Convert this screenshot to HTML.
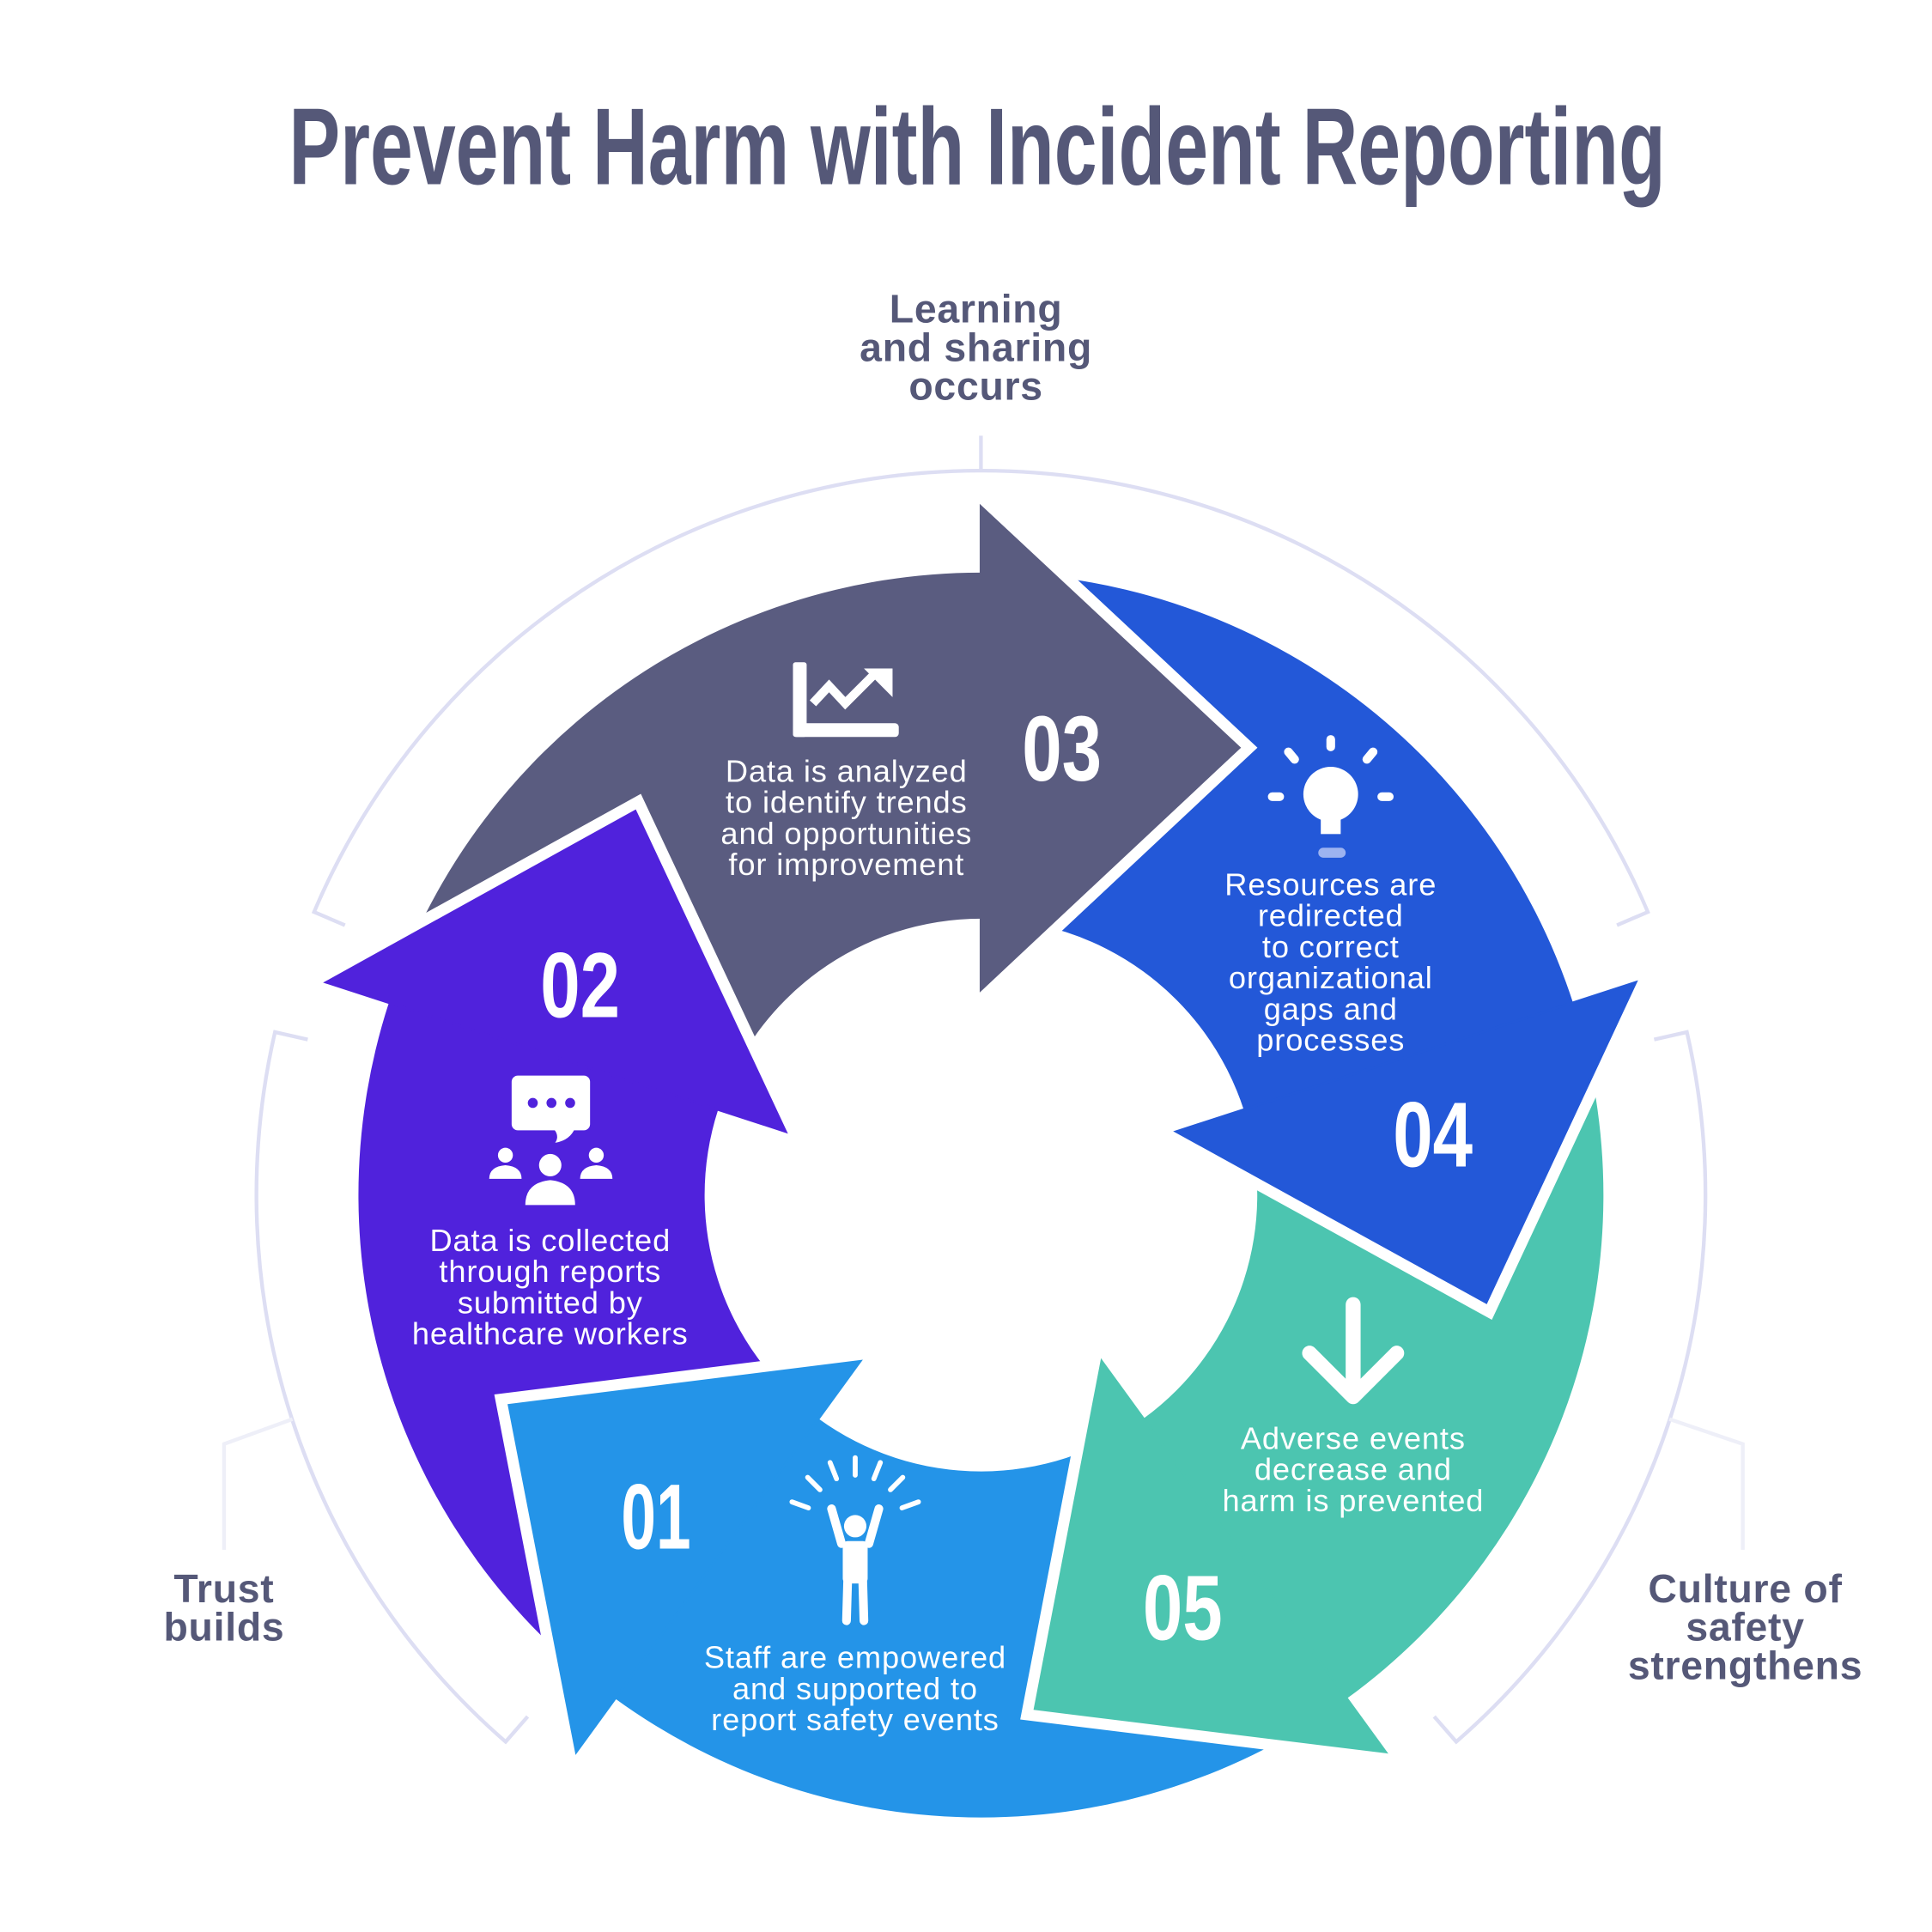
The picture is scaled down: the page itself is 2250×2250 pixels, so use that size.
<!DOCTYPE html>
<html><head><meta charset="utf-8"><style>html,body{margin:0;padding:0;background:#fff}svg{display:block}</style></head>
<body>
<svg width="2250" height="2250" viewBox="0 0 1552 1552" xmlns="http://www.w3.org/2000/svg" font-family="'Liberation Sans', sans-serif">
<rect width="1552" height="1552" fill="#fff"/>
<text x="785" y="148" text-anchor="middle" font-size="88" font-weight="bold" fill="#555878" textLength="1106" lengthAdjust="spacingAndGlyphs">Prevent Harm with Incident Reporting</text>

<!-- outer ring -->
<g fill="none" stroke="#DDDEF3" stroke-width="3">
<path d="M277.1,743.2 L252.3,732.6 A582,582 0 0 1 1323.7,732.6 L1298.9,743.2"/>
<path d="M247.2,835.1 L220.9,829.1 A582,582 0 0 0 406.2,1399.2 L423.9,1378.9"/>
<path d="M1328.8,835.1 L1355.1,829.1 A582,582 0 0 1 1169.8,1399.2 L1152.1,1378.9"/>
<line x1="788" y1="378" x2="788" y2="350"/>
</g>
<g fill="none" stroke="#EEEFF8" stroke-width="3">
<polyline points="235,1140 180,1160 180,1245"/>
<polyline points="1341,1140 1400,1160 1400,1245"/>
</g>

<!-- bodies -->
<path d="M1081.9,1364.5 A500,500 0 0 1 494.1,1364.5 L657.5,1139.6 A222,222 0 0 0 918.5,1139.6 Z" fill="#2494E8"/>
<path d="M494.1,1364.5 A500,500 0 0 1 312.4,805.5 L576.9,891.4 A222,222 0 0 0 657.5,1139.6 Z" fill="#5022DC"/>
<path d="M312.4,805.5 A500,500 0 0 1 788,460 L788,738 A222,222 0 0 0 576.9,891.4 Z" fill="#5A5C80"/>
<path d="M788,460 A500,500 0 0 1 1263.6,805.5 L999.1,891.4 A222,222 0 0 0 788,738 Z" fill="#2358D8"/>
<path d="M1263.6,805.5 A500,500 0 0 1 1081.9,1364.5 L918.5,1139.6 A222,222 0 0 0 999.1,891.4 Z" fill="#4CC5B0"/>

<!-- heads -->
<g stroke="#fff" stroke-width="20" fill="none" stroke-linejoin="miter">
<polyline points="462.9,1407.4 408.9,1128.8 691.0,1093.5"/>
<polyline points="262.0,789.1 510.3,651.6 631.1,909.0"/>
<polyline points="788,407 995.5,600.6 788,795"/>
<polyline points="1314,789.1 1193.9,1046.3 944.9,909.0"/>
<polyline points="1113.1,1407.4 831.4,1372.7 885,1093.5"/>
</g>
<g stroke-width="2" stroke-linejoin="miter">
<polygon points="462.9,1407.4 408.9,1128.8 691.0,1093.5" fill="#2494E8" stroke="#2494E8"/>
<polygon points="262.0,789.1 510.3,651.6 631.1,909.0" fill="#5022DC" stroke="#5022DC"/>
<polygon points="788,407 995.5,600.6 788,795" fill="#5A5C80" stroke="#5A5C80"/>
<polygon points="1314,789.1 1193.9,1046.3 944.9,909.0" fill="#2358D8" stroke="#2358D8"/>
<polygon points="1113.1,1407.4 831.4,1372.7 885,1093.5" fill="#4CC5B0" stroke="#4CC5B0"/>
</g>

<!-- numbers -->
<g fill="#fff" font-weight="bold" font-size="74" text-anchor="middle">
<text x="853" y="627" textLength="64" lengthAdjust="spacingAndGlyphs">03</text>
<text x="466" y="817" textLength="64" lengthAdjust="spacingAndGlyphs">02</text>
<text x="1151" y="937" textLength="64" lengthAdjust="spacingAndGlyphs">04</text>
<text x="950" y="1317" textLength="64" lengthAdjust="spacingAndGlyphs">05</text>
<text x="527" y="1244" textLength="56" lengthAdjust="spacingAndGlyphs">01</text>
</g>

<!-- body texts -->
<g fill="#fff" font-size="25" letter-spacing="0.6" text-anchor="middle">
<text x="680" y="628">Data is analyzed</text>
<text x="680" y="653">to identify trends</text>
<text x="680" y="678">and opportunities</text>
<text x="680" y="703">for improvement</text>
<text x="1069" y="719">Resources are</text>
<text x="1069" y="744">redirected</text>
<text x="1069" y="769">to correct</text>
<text x="1069" y="794">organizational</text>
<text x="1069" y="819">gaps and</text>
<text x="1069" y="844">processes</text>
<text x="442" y="1005">Data is collected</text>
<text x="442" y="1030">through reports</text>
<text x="442" y="1055">submitted by</text>
<text x="442" y="1080">healthcare workers</text>
<text x="1087" y="1164">Adverse events</text>
<text x="1087" y="1189">decrease and</text>
<text x="1087" y="1214">harm is prevented</text>
<text x="687" y="1340">Staff are empowered</text>
<text x="687" y="1365">and supported to</text>
<text x="687" y="1390">report safety events</text>
</g>

<!-- outer labels -->
<g fill="#555878" font-size="32" font-weight="bold" letter-spacing="0.5" text-anchor="middle">
<text x="784" y="259">Learning</text>
<text x="784" y="290">and sharing</text>
<text x="784" y="321">occurs</text>
<text x="180" y="1287">Trust</text>
<text x="180" y="1318">builds</text>
<text x="1402" y="1287">Culture of</text>
<text x="1402" y="1318">safety</text>
<text x="1402" y="1349">strengthens</text>
</g>

<!-- chart icon -->
<g fill="#fff">
<rect x="637" y="532" width="11" height="60" rx="2"/>
<rect x="637" y="581" width="85" height="11" rx="3"/>
<polyline points="653,565 666,551 679,565 701,543" fill="none" stroke="#fff" stroke-width="7"/>
<polygon points="694,537 717,537 717,560"/>
</g>

<!-- lightbulb -->
<g stroke="#fff" stroke-width="7" stroke-linecap="round" fill="none">
<line x1="1069" y1="594" x2="1069" y2="600"/>
<line x1="1035" y1="604" x2="1040" y2="610"/>
<line x1="1103" y1="604" x2="1098" y2="610"/>
<line x1="1022" y1="640" x2="1028" y2="640"/>
<line x1="1110" y1="640" x2="1116" y2="640"/>
</g>
<circle cx="1069" cy="638" r="22" fill="#fff"/>
<rect x="1061" y="650" width="16" height="20" fill="#fff"/>
<rect x="1059" y="681" width="22" height="8" rx="4" fill="#9DB3F0"/>

<!-- chat & people -->
<rect x="411" y="864" width="63" height="44" rx="5" fill="#fff"/>
<path d="M444,906 L462,906 Q458,916 446,918 Q450,912 444,906 Z" fill="#fff"/>
<g fill="#5022DC"><circle cx="428" cy="886" r="4"/><circle cx="443" cy="886" r="4"/><circle cx="458" cy="886" r="4"/></g>
<g fill="#fff">
<circle cx="406" cy="928" r="6"/><path d="M393,947 Q393,937 406,936 Q419,937 419,947 Z"/>
<circle cx="479" cy="928" r="6"/><path d="M466,947 Q466,937 479,936 Q492,937 492,947 Z"/>
<circle cx="442" cy="936" r="9"/><path d="M422,968 Q422,950 442,948 Q462,950 462,968 Z"/>
</g>

<!-- down arrow -->
<g stroke="#fff" stroke-width="12" fill="none" stroke-linecap="round" stroke-linejoin="round">
<line x1="1087" y1="1048" x2="1087" y2="1118"/>
<polyline points="1052,1087 1087,1122 1122,1087"/>
</g>

<!-- person with rays -->
<g stroke="#fff" stroke-width="4" stroke-linecap="round">
<line x1="649.4" y1="1211.3" x2="636.2" y2="1206.5"/>
<line x1="658.7" y1="1196.7" x2="648.8" y2="1186.8"/>
<line x1="672" y1="1187.9" x2="666.8" y2="1174.9"/>
<line x1="687" y1="1185" x2="687" y2="1171"/>
<line x1="702" y1="1187.9" x2="707.2" y2="1174.9"/>
<line x1="715.3" y1="1196.7" x2="725.2" y2="1186.8"/>
<line x1="724.6" y1="1211.3" x2="737.8" y2="1206.5"/>
</g>
<g fill="#fff" stroke="#fff" stroke-linecap="round">
<circle cx="687" cy="1226" r="9" stroke="none"/>
<line x1="676" y1="1240" x2="668" y2="1212" stroke-width="7"/>
<line x1="698" y1="1240" x2="706" y2="1212" stroke-width="7"/>
<rect x="677" y="1238" width="20" height="34" rx="4" stroke="none"/>
<line x1="681" y1="1268" x2="680" y2="1302" stroke-width="7"/>
<line x1="693" y1="1268" x2="694" y2="1302" stroke-width="7"/>
</g>
</svg>
</body></html>
